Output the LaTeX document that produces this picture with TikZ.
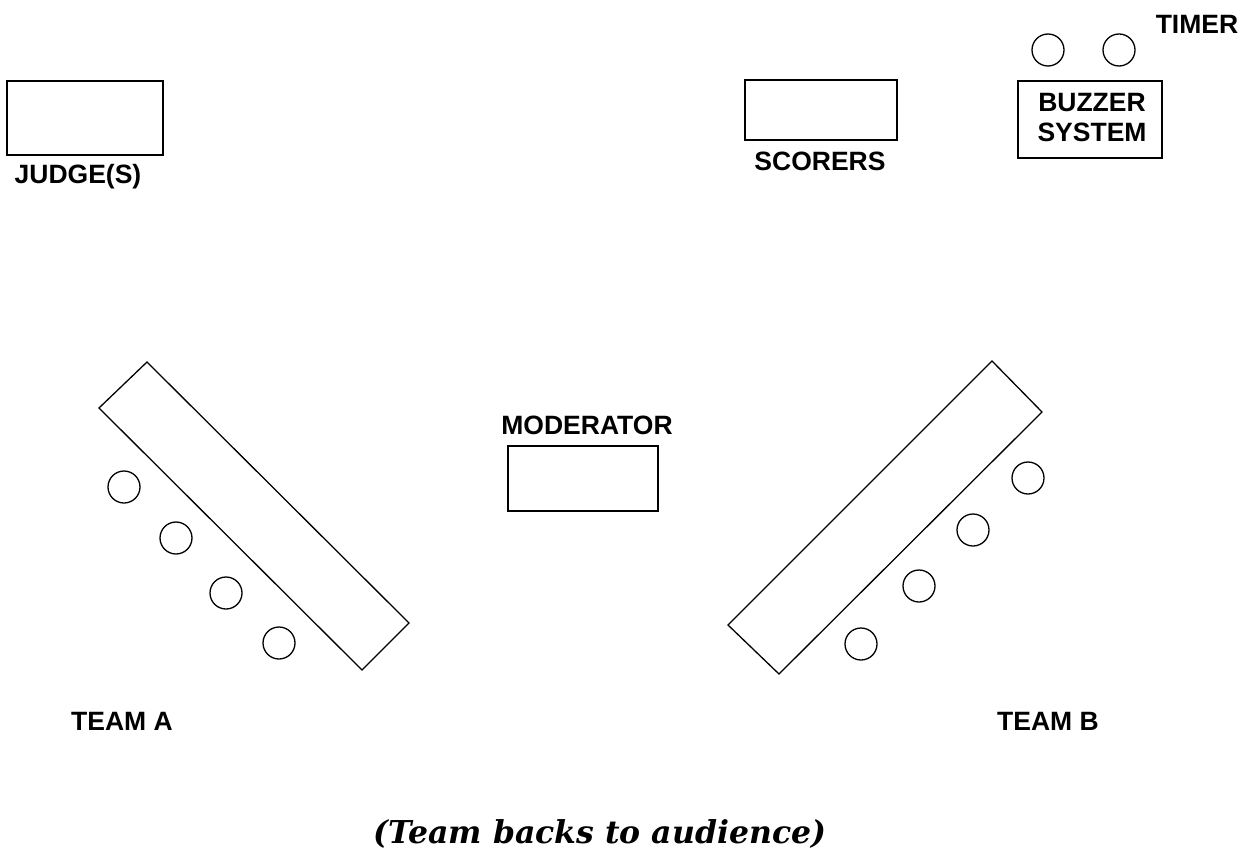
\documentclass[tikz,border=0pt]{standalone}
\usepackage{fontspec}
\setmainfont{Liberation Sans}
\newfontfamily\capfont{DejaVu Serif}
\tikzset{
  lbl/.style={font=\bfseries\fontsize{26.5}{30}\selectfont, inner sep=0pt},
  box/.style={draw, line width=1.3pt},
  seat/.style={draw, line width=1.3pt, circle, minimum size=32pt, inner sep=0pt},
  tbl/.style={draw, line width=1.3pt, line join=miter}
}
\begin{document}
\begin{tikzpicture}[x=1pt,y=-1pt]
\useasboundingbox (0,0) rectangle (1249,861);
% judges
\draw[box] (7,81) rectangle (163,155);
\node[lbl] (judge) at (78,177) {JUDGE(S)};
% scorers
\draw[box] (745,80) rectangle (897,140);
\node[lbl] (scorers) at (820,161) {SCORERS};
% buzzer
\draw[box] (1018,81) rectangle (1162,158);
\node[lbl, align=center, font=\bfseries\fontsize{26.5}{30}\selectfont] (buzzer) at (1092,118) {BUZZER\\SYSTEM};
\node[seat] (t1) at (1048,50) {};
\node[seat] (t2) at (1119,50) {};
\node[lbl] (timer) at (1197,24) {TIMER};
% moderator
\node[lbl] (moderator) at (587,425) {MODERATOR};
\draw[box] (508,446) rectangle (658,511);
% team A table
\draw[tbl] (147,362) -- (409,623) -- (362,670) -- (99,408) -- cycle;
\node[seat] (a1) at (124,487) {};
\node[seat] (a2) at (176,538) {};
\node[seat] (a3) at (226,593) {};
\node[seat] (a4) at (279,643) {};
\node[lbl] (teama) at (122,721) {TEAM A};
% team B table
\draw[tbl] (992,361) -- (1042,412) -- (779,674) -- (728,625) -- cycle;
\node[seat] (b1) at (1028,478) {};
\node[seat] (b2) at (973,530) {};
\node[seat] (b3) at (919,586) {};
\node[seat] (b4) at (861,644) {};
\node[lbl] (teamb) at (1048,721) {TEAM B};
% caption
\node[inner sep=0pt, font=\capfont\bfseries\itshape\fontsize{31.5}{36}\selectfont] (caption) at (600,834) {(Team backs to audience)};
\end{tikzpicture}
\end{document}
